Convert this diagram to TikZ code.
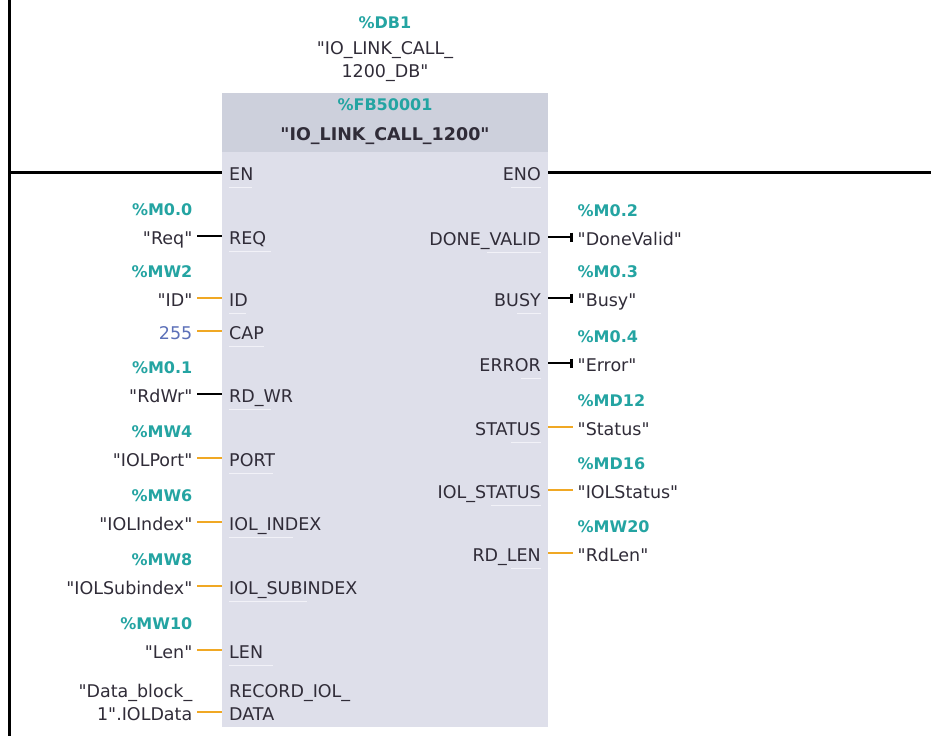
\documentclass[tikz,border=0pt]{standalone}
\usepackage{fontspec}
\setmainfont{DejaVu Sans}[Ligatures=TeXOff]
\usetikzlibrary{arrows.meta,positioning}

\definecolor{tiateal}{RGB}{36,164,162}
\definecolor{tiatext}{RGB}{48,44,56}
\definecolor{tiaconst}{RGB}{92,112,184}
\definecolor{tiaorange}{RGB}{240,168,36}
\definecolor{headgray}{RGB}{205,208,220}
\definecolor{bodygray}{RGB}{222,223,234}
\definecolor{pinwhite}{RGB}{242,242,248}

\newcommand\pinfont{\fontsize{17.5}{23}\selectfont}
\newcommand\addrfont{\fontsize{16}{20}\selectfont\bfseries}

\begin{document}
\begin{tikzpicture}[
    x=1pt, y=-1pt,
    txt/.style={font=\pinfont,text=tiatext,inner ysep=0pt},
    oneline/.style={text height=18pt,text depth=2pt},
    pinl/.style={txt,oneline,anchor=west,inner xsep=7pt},
    pinr/.style={txt,oneline,anchor=east,inner xsep=7pt},
    operand/.style={txt,oneline,inner xsep=4.5pt},
    addr/.style={font=\addrfont,text=tiateal,text height=14pt,text depth=2pt,inner ysep=0pt,inner xsep=4.5pt},
    rail/.style={line width=3pt},
    boolwire/.style={line width=2.8pt},
    wordwire/.style={line width=2.8pt,draw=tiaorange},
    coil/.style={boolwire,-{Bar[width=9pt]}},
    pinmark/.style={line width=1.2pt,draw=pinwhite}
]
\useasboundingbox (0,0) rectangle (931,736);

% instance DB above the block
\node[addr,anchor=base] (dbnum) at (385,28) {\%DB1};
\node[txt,align=center] (dbname) at (385,62) {"IO\_LINK\_CALL\_\\1200\_DB"};

% function block
\fill[headgray] (222,93) rectangle (548,152);
\fill[bodygray] (222,152) rectangle (548,727);
\node[addr,anchor=base] (fbnum) at (385,110) {\%FB50001};
\node[txt,font=\pinfont\bfseries,anchor=base] (fbname) at (385,140) {"IO\_LINK\_CALL\_1200"};

% input pins
\node[pinl] (en) at (222,172) {EN};
\node[pinl] (req) at (222,236) {REQ};
\node[pinl] (id) at (222,298) {ID};
\node[pinl] (cap) at (222,331) {CAP};
\node[pinl] (rdwr) at (222,394) {RD\_WR};
\node[pinl] (port) at (222,458) {PORT};
\node[pinl] (index) at (222,522) {IOL\_INDEX};
\node[pinl] (subidx) at (222,586) {IOL\_SUBINDEX};
\node[pinl] (len) at (222,650) {LEN};
\node[txt,anchor=west,inner xsep=7pt,align=left] (recdata) at (222,702) {RECORD\_IOL\_\\DATA};

% output pins
\node[pinr] (eno) at (548,172) {ENO};
\node[pinr] (dv) at (548,237) {DONE\_VALID};
\node[pinr] (busy) at (548,298) {BUSY};
\node[pinr] (err) at (548,363) {ERROR};
\node[pinr] (status) at (548,427) {STATUS};
\node[pinr] (iolst) at (548,490) {IOL\_STATUS};
\node[pinr] (rdlen) at (548,553) {RD\_LEN};

\foreach \p/\w in {en/23,req/42,id/17,cap/35,rdwr/42,port/44,index/64,subidx/78,len/44}
    \draw[pinmark] ([shift={(7pt,-7.5pt)}]\p.base west) -- ++(\w,0);
\foreach \p/\w in {eno/30,dv/54,busy/24,err/20,status/30,iolst/50,rdlen/30}
    \draw[pinmark] ([shift={(-7pt,-7.5pt)}]\p.base east) -- ++(-\w,0);

% actual parameters, inputs
\node[operand,left=25pt of req] (reqop) {"Req"};
\node[operand,left=25pt of id] (idop) {"ID"};
\node[operand,text=tiaconst,left=25pt of cap] (capop) {255};
\node[operand,left=25pt of rdwr] (rdwrop) {"RdWr"};
\node[operand,left=25pt of port] (portop) {"IOLPort"};
\node[operand,left=25pt of index] (indexop) {"IOLIndex"};
\node[operand,left=25pt of subidx] (subidxop) {"IOLSubindex"};
\node[operand,left=25pt of len] (lenop) {"Len"};
\node[txt,align=right,inner xsep=4.5pt,left=25pt of recdata] (dataop) {"Data\_block\_\\1".IOLData};

\node[addr,above=8pt of reqop.north east,anchor=south east] (reqaddr) {\%M0.0};
\node[addr,above=8pt of idop.north east,anchor=south east] (idaddr) {\%MW2};
\node[addr,above=8pt of rdwrop.north east,anchor=south east] (rdwraddr) {\%M0.1};
\node[addr,above=8pt of portop.north east,anchor=south east] (portaddr) {\%MW4};
\node[addr,above=8pt of indexop.north east,anchor=south east] (indexaddr) {\%MW6};
\node[addr,above=8pt of subidxop.north east,anchor=south east] (subidxaddr) {\%MW8};
\node[addr,above=8pt of lenop.north east,anchor=south east] (lenaddr) {\%MW10};

% actual parameters, outputs
\node[operand,right=25pt of dv] (dvop) {"DoneValid"};
\node[operand,right=25pt of busy] (busyop) {"Busy"};
\node[operand,right=25pt of err] (errop) {"Error"};
\node[operand,right=25pt of status] (statusop) {"Status"};
\node[operand,right=25pt of iolst] (iolstop) {"IOLStatus"};
\node[operand,right=25pt of rdlen] (rdlenop) {"RdLen"};

\node[addr,above=8pt of dvop.north west,anchor=south west] (dvaddr) {\%M0.2};
\node[addr,above=8pt of busyop.north west,anchor=south west] (busyaddr) {\%M0.3};
\node[addr,above=8pt of errop.north west,anchor=south west] (erraddr) {\%M0.4};
\node[addr,above=8pt of statusop.north west,anchor=south west] (statusaddr) {\%MD12};
\node[addr,above=8pt of iolstop.north west,anchor=south west] (iolstaddr) {\%MD16};
\node[addr,above=8pt of rdlenop.north west,anchor=south west] (rdlenaddr) {\%MW20};

% power rail and rung
\coordinate (railtop) at (9,0);
\coordinate (railbot) at (9,736);
\coordinate (railen) at (9,172);
\coordinate (rungend) at (931,172);
\draw[rail] (railtop) -- (railbot);
\draw[rail] (railen) -- (en);
\draw[rail] (eno) -- (rungend);

% input wires
\draw[boolwire] (reqop) -- (req);
\draw[wordwire] (idop) -- (id);
\draw[wordwire] (capop) -- (cap);
\draw[boolwire] (rdwrop) -- (rdwr);
\draw[wordwire] (portop) -- (port);
\draw[wordwire] (indexop) -- (index);
\draw[wordwire] (subidxop) -- (subidx);
\draw[wordwire] (lenop) -- (len);
\draw[wordwire] ([yshift=-10pt]dataop.east) -- ([yshift=-10pt]recdata.west);

% output wires
\draw[coil] (dv) -- (dvop);
\draw[coil] (busy) -- (busyop);
\draw[coil] (err) -- (errop);
\draw[wordwire] (status) -- (statusop);
\draw[wordwire] (iolst) -- (iolstop);
\draw[wordwire] (rdlen) -- (rdlenop);

\end{tikzpicture}
\end{document}
